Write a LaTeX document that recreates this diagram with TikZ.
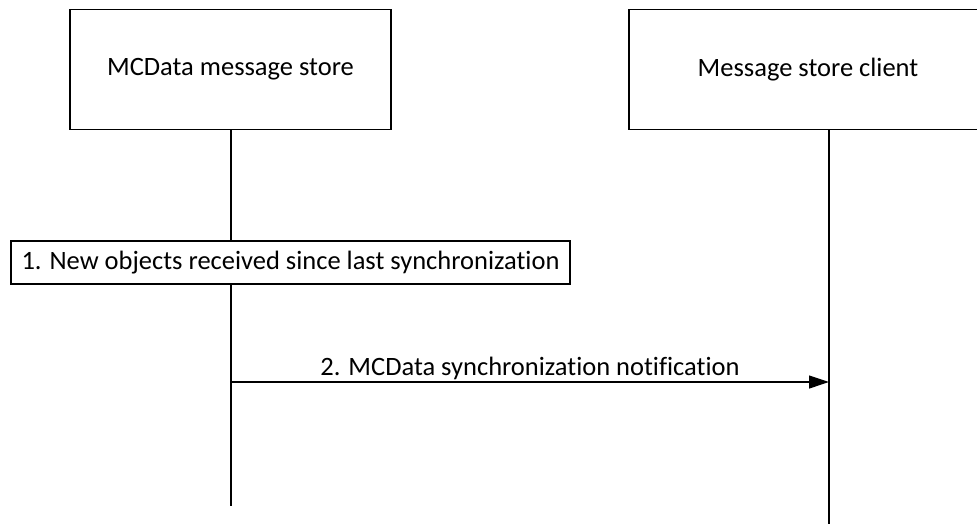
\documentclass[tikz,border=0pt]{standalone}
\usepackage{fontspec}
\setmainfont{Carlito}[Ligatures=NoCommon]
\usetikzlibrary{arrows.meta}
\usetikzlibrary{positioning}

\tikzset{
    actor/.style={draw, line width=1.2pt, minimum height=120pt, inner sep=0pt},
    stepbox/.style={draw, line width=1.2pt, minimum height=43pt, inner sep=0pt},
    lifeline/.style={line width=1.2pt},
    msg/.style={line width=1.2pt, -{Triangle[length=20pt,width=13pt]}}
}

\begin{document}
\begin{tikzpicture}[x=1pt,y=-1pt,font=\fontsize{26.5}{30}\selectfont]
        \useasboundingbox (0,0) rectangle (977,524);
        % entities
        \node[actor, minimum width=321pt] (store) at (230.5,69.5) {MCData message store};
        \node[actor, minimum width=358pt] (client) at (808,69.5) {};
        \node (clienttext) at (808,69.5) {Message store client};
        % lifelines
        \coordinate (storetop) at (231,129.5);
        \coordinate (storeend) at (231,506);
        \coordinate (clienttop) at (829,129.5);
        \coordinate (clientend) at (829,524);
        \draw[lifeline] (storetop) -- (storeend);
        \draw[lifeline] (clienttop) -- (clientend);
        % step 1
        \node[stepbox, minimum width=559pt, fill=white] (step1) at (290.5,262.5) {1. New objects received since last synchronization};
        % step 2
        \coordinate (msgfrom) at (231,382);
        \coordinate (msgto) at (829,382);
        \draw[msg] (msgfrom) -- (msgto) node[midway, above=-2pt] (msglabel) {2. MCData synchronization notification};
    \end{tikzpicture}
\end{document}
